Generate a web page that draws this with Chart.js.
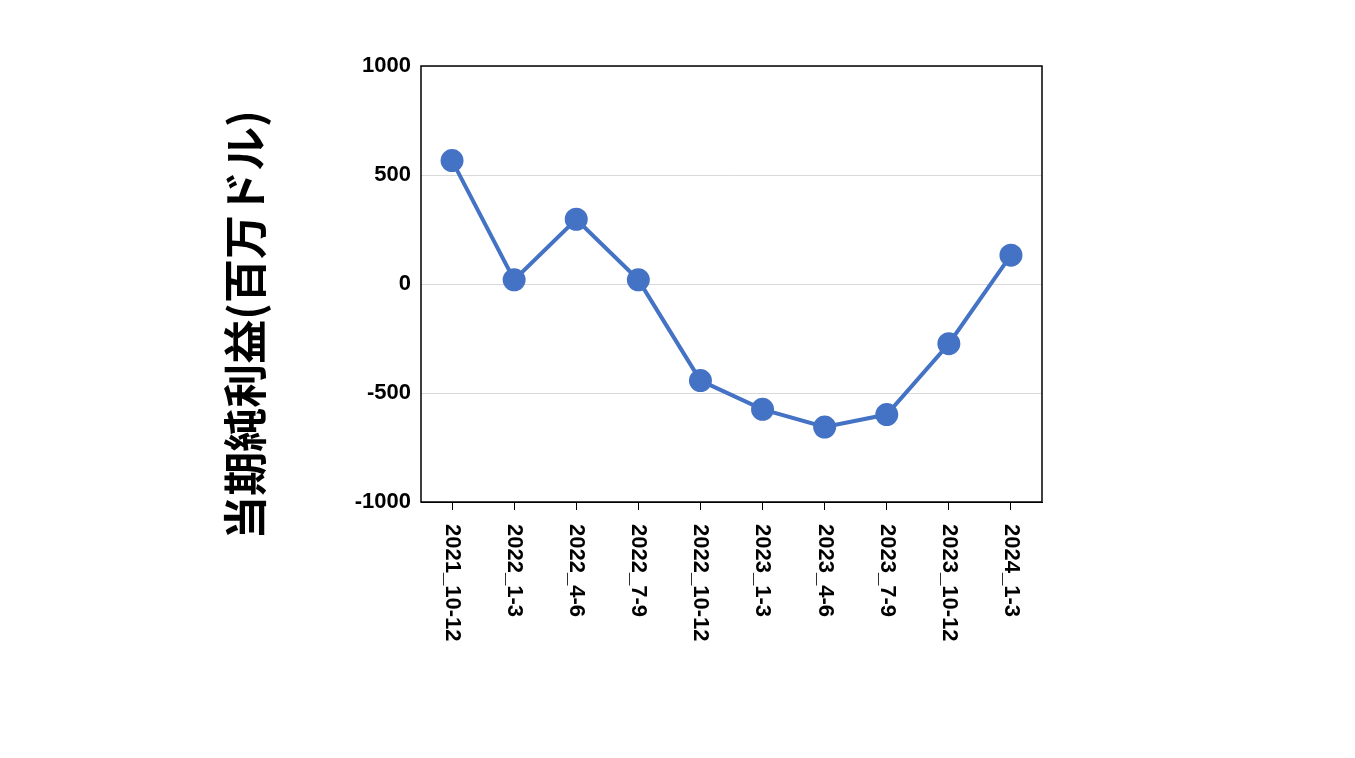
<!DOCTYPE html>
<html><head><meta charset="utf-8">
<script src="https://cdn.jsdelivr.net/npm/chart.js@4"></script>
<style>html,body{margin:0;background:#fff}#wrap{width:1355px;height:758px}</style>
</head><body><div id="wrap"><canvas id="c"></canvas></div>
<script>
const categories = ['2021_10-12','2022_1-3','2022_4-6','2022_7-9','2022_10-12','2023_1-3','2023_4-6','2023_7-9','2023_10-12','2024_1-3'];
const netIncome = [566, 19, 297, 19, -443, -575, -656, -599, -274, 132];
const yTitle = '当期純利益(百万ドル)';

// box around the plot, x labels read top-to-bottom, y title
const extras = {
  id: 'extras',
  afterDraw(chart) {
    const a = chart.chartArea, ctx = chart.ctx, x = chart.scales.x;
    ctx.save();
    ctx.strokeStyle = '#000';
    ctx.lineWidth = 1.5;
    ctx.strokeRect(a.left, a.top, a.right - a.left, a.bottom - a.top);

    ctx.fillStyle = '#000';
    ctx.font = 'bold 22px "Liberation Sans"';
    ctx.textAlign = 'left';
    ctx.textBaseline = 'middle';
    categories.forEach((c, i) => {
      ctx.save();
      ctx.translate(x.getPixelForTick(i), a.bottom + 22);
      ctx.rotate(Math.PI / 2);
      ctx.fillText(c, 0, 0);
      ctx.restore();
    });

    ctx.font = 'bold 44px "Noto Sans CJK JP"';
    ctx.textAlign = 'center';
    ctx.translate(245, 325);
    ctx.rotate(-Math.PI / 2);
    ctx.fillText(yTitle, 0, 0);
    ctx.restore();
  }
};

new Chart(document.getElementById('c'), {
  type: 'line',
  data: {
    labels: categories,
    datasets: [{
      data: netIncome,
      borderColor: '#4472C4',
      backgroundColor: '#4472C4',
      borderWidth: 4,
      pointRadius: 9.5,
      pointHoverRadius: 9.5,
      tension: 0
    }]
  },
  options: {
    responsive: true,
    maintainAspectRatio: false,
    animation: false,
    layout: { padding: { left: 222, right: 313, top: 66, bottom: 0 } },
    plugins: { legend: { display: false }, tooltip: { enabled: false } },
    scales: {
      x: {
        offset: true,
        grid: { drawOnChartArea: false, color: '#000', tickLength: 8, offset: false },
        border: { color: '#000' },
        ticks: { callback: () => '', maxRotation: 0 },
        afterFit(s) { s.height = 256; }
      },
      y: {
        min: -1000, max: 1000,
        ticks: { stepSize: 500, color: '#000', padding: 10, callback: v => v,
          font: { family: 'Liberation Sans', size: 22, weight: 'bold' } },
        grid: { color: '#d9d9d9', drawTicks: false },
        border: { display: false },
        afterFit(s) { s.width = 199; }
      }
    }
  },
  plugins: [extras]
});
</script></body></html>
